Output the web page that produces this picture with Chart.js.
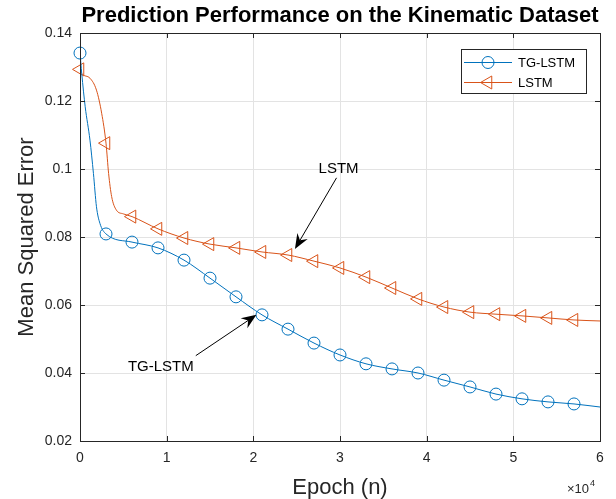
<!DOCTYPE html>
<html>
<head>
<meta charset="utf-8">
<script src="https://cdn.jsdelivr.net/npm/chart.js@4.4.0/dist/chart.umd.min.js"></script>
<style>
  html, body { margin: 0; padding: 0; background: #fff; }
</style>
</head>
<body>
<canvas id="mseChart" width="616" height="499"></canvas>
<script>
const FONT = "'Liberation Sans', Arial, Helvetica, sans-serif";
const BLUE = '#0072BD';
const ORANGE = '#D95319';
const AXIS = '#262626';

// markers every 3000 epochs
const markerEpochs = [0, 3000, 6000, 9000, 12000, 15000, 18000, 21000, 24000, 27000,
                      30000, 33000, 36000, 39000, 42000, 45000, 48000, 51000, 54000, 57000];
const tgMarkers = [0.1341, 0.0809, 0.0785, 0.0768, 0.0732, 0.0679, 0.0624, 0.0571, 0.0529, 0.0488,
                   0.0453, 0.0427, 0.0412, 0.0400, 0.0379, 0.0359, 0.0338, 0.0324, 0.0315, 0.0309];
const lstmMarkers = [0.1293, 0.1076, 0.0860, 0.0824, 0.0797, 0.0779, 0.0768, 0.0756, 0.0747, 0.0729,
                     0.0709, 0.0682, 0.0650, 0.0618, 0.0594, 0.0579, 0.0573, 0.0568, 0.0562, 0.0556];

// extra readings of the curves where they bend sharply
const tgExtraEpochs = [200, 600, 1150, 1550, 1900, 2300, 60000];
const tgExtraMse = [0.1281, 0.1183, 0.1085, 0.0987, 0.0889, 0.0840, 0.0300];
const lstmExtraEpochs = [200, 1150, 1900, 2500, 3300, 3650, 4200, 5000, 60000];
const lstmExtraMse = [0.1281, 0.1267, 0.1232, 0.1164, 0.0987, 0.0919, 0.0879, 0.0868, 0.0553];

const xTicks = [0, 1, 2, 3, 4, 5, 6]; // x 10^4
const yTicks = [0.02, 0.04, 0.06, 0.08, 0.1, 0.12, 0.14];

function toPoints(xs, ys) {
    return xs.map((x, i) => ({ x: x, y: ys[i] }));
}
function curve(xs1, ys1, xs2, ys2) {
    return toPoints(xs1, ys1).concat(toPoints(xs2, ys2)).sort((a, b) => a.x - b.x);
}

function drawArrow(ctx, x1, y1, x2, y2) {
    const dx = x2 - x1, dy = y2 - y1;
    const len = Math.hypot(dx, dy);
    const ux = dx / len, uy = dy / len;
    const nx = -uy, ny = ux;
    const L = 15, W = 6, B = 5;
    ctx.beginPath();
    ctx.moveTo(x1, y1);
    ctx.lineTo(x2 - ux * (L - B), y2 - uy * (L - B));
    ctx.stroke();
    ctx.beginPath();
    ctx.moveTo(x2, y2);
    ctx.lineTo(x2 - ux * L + nx * W, y2 - uy * L + ny * W);
    ctx.lineTo(x2 - ux * (L - B), y2 - uy * (L - B));
    ctx.lineTo(x2 - ux * L - nx * W, y2 - uy * L - ny * W);
    ctx.closePath();
    ctx.fill();
}

const decorations = {
    id: 'decorations',
    afterDatasetsDraw(chart) {
        const ctx = chart.ctx;
        const a = chart.chartArea;
        const xs = chart.scales.x, ys = chart.scales.y;
        ctx.save();

        // axes box + inner ticks
        ctx.strokeStyle = AXIS;
        ctx.lineWidth = 1;
        ctx.strokeRect(Math.round(a.left) + 0.5, Math.round(a.top) + 0.5,
                       Math.round(a.right - a.left), Math.round(a.bottom - a.top));
        ctx.beginPath();
        xTicks.forEach(t => {
            const px = Math.round(xs.getPixelForValue(t * 10000)) + 0.5;
            ctx.moveTo(px, a.bottom); ctx.lineTo(px, a.bottom - 5);
            ctx.moveTo(px, a.top); ctx.lineTo(px, a.top + 5);
        });
        yTicks.forEach(t => {
            const py = Math.round(ys.getPixelForValue(t)) + 0.5;
            ctx.moveTo(a.left, py); ctx.lineTo(a.left + 5, py);
            ctx.moveTo(a.right, py); ctx.lineTo(a.right - 5, py);
        });
        ctx.stroke();

        // title and axis labels
        ctx.fillStyle = '#000';
        ctx.textAlign = 'center';
        ctx.textBaseline = 'alphabetic';
        ctx.font = 'bold 22px ' + FONT;
        ctx.fillText('Prediction Performance on the Kinematic Dataset', (a.left + a.right) / 2, 22);

        ctx.fillStyle = AXIS;
        ctx.font = '22px ' + FONT;
        ctx.fillText('Epoch (n)', (a.left + a.right) / 2, 494);
        ctx.save();
        ctx.translate(33, (a.top + a.bottom) / 2);
        ctx.rotate(-Math.PI / 2);
        ctx.fillText('Mean Squared Error', 0, 0);
        ctx.restore();

        ctx.textAlign = 'right';
        ctx.font = '13px ' + FONT;
        ctx.fillText('\u00d710', a.right - 11, 493);
        ctx.textAlign = 'left';
        ctx.font = '9px ' + FONT;
        ctx.fillText('4', a.right - 10, 486);

        // annotations
        ctx.fillStyle = '#000';
        ctx.strokeStyle = '#000';
        ctx.lineWidth = 1;
        ctx.font = '15px ' + FONT;
        ctx.textAlign = 'center';
        ctx.textBaseline = 'middle';
        ctx.fillText('LSTM', xs.getPixelForValue(29840), ys.getPixelForValue(0.1000));
        drawArrow(ctx, xs.getPixelForValue(29600), ys.getPixelForValue(0.0974),
                  xs.getPixelForValue(24800), ys.getPixelForValue(0.0765));
        ctx.fillText('TG-LSTM', xs.getPixelForValue(9330), ys.getPixelForValue(0.0418));
        drawArrow(ctx, xs.getPixelForValue(13360), ys.getPixelForValue(0.0451),
                  xs.getPixelForValue(20360), ys.getPixelForValue(0.0571));

        // legend
        const lx = a.right - 139, ly = a.top + 16, lw = 125, lh = 44;
        ctx.fillStyle = '#fff';
        ctx.fillRect(lx, ly, lw, lh);
        ctx.strokeStyle = AXIS;
        ctx.lineWidth = 1;
        ctx.strokeRect(lx + 0.5, ly + 0.5, lw, lh);
        const rows = [
            { label: 'TG-LSTM', color: BLUE, style: 'circle', r: 6, rot: 0, y: ly + 13 },
            { label: 'LSTM', color: ORANGE, style: 'triangle', r: 7.5, rot: -90, y: ly + 33 }
        ];
        ctx.textAlign = 'left';
        ctx.textBaseline = 'middle';
        ctx.font = '13px ' + FONT;
        rows.forEach(row => {
            ctx.strokeStyle = row.color;
            ctx.lineWidth = 1;
            ctx.beginPath();
            ctx.moveTo(lx + 3, row.y + 0.5);
            ctx.lineTo(lx + 51, row.y + 0.5);
            ctx.stroke();
            ctx.fillStyle = 'rgba(0,0,0,0)';
            Chart.helpers.drawPoint(ctx, {
                pointStyle: row.style, radius: row.r, rotation: row.rot, borderWidth: 1
            }, lx + 27, row.y + 0.5);
            ctx.fillStyle = '#000';
            ctx.fillText(row.label, lx + 57, row.y + 1);
        });
        ctx.restore();
    }
};

new Chart(document.getElementById('mseChart'), {
    type: 'scatter',
    data: {
        datasets: [{
            data: curve(markerEpochs, tgMarkers, tgExtraEpochs, tgExtraMse),
            showLine: true,
            borderColor: BLUE,
            borderWidth: 1,
            pointRadius: 0,
            cubicInterpolationMode: 'monotone'
        }, {
            data: curve(markerEpochs, lstmMarkers, lstmExtraEpochs, lstmExtraMse),
            showLine: true,
            borderColor: ORANGE,
            borderWidth: 1,
            pointRadius: 0,
            cubicInterpolationMode: 'monotone'
        }, {
            data: toPoints(markerEpochs, tgMarkers),
            showLine: false,
            clip: false,
            pointStyle: 'circle',
            pointRadius: 6,
            pointBorderWidth: 1,
            pointBorderColor: BLUE,
            pointBackgroundColor: 'rgba(0,0,0,0)'
        }, {
            data: toPoints(markerEpochs, lstmMarkers),
            showLine: false,
            clip: false,
            pointStyle: 'triangle',
            pointRotation: -90,
            pointRadius: 7.5,
            pointBorderWidth: 1,
            pointBorderColor: ORANGE,
            pointBackgroundColor: 'rgba(0,0,0,0)'
        }]
    },
    options: {
        responsive: false,
        animation: false,
        layout: {
            padding: { top: 33, right: 16, left: 0, bottom: 0 }
        },
        plugins: {
            legend: { display: false },
            tooltip: { enabled: false }
        },
        scales: {
            x: {
                type: 'linear',
                min: 0,
                max: 60000,
                afterBuildTicks: s => { s.ticks = xTicks.map(v => ({ value: v * 10000 })); },
                afterFit: s => { s.height = 58; },
                ticks: {
                    callback: v => String(v / 10000),
                    color: AXIS,
                    font: { family: FONT, size: 14 },
                    padding: 9,
                    maxRotation: 0
                },
                grid: { color: '#e3e3e3', drawTicks: false },
                border: { display: false }
            },
            y: {
                min: 0.02,
                max: 0.14,
                afterBuildTicks: s => { s.ticks = yTicks.map(v => ({ value: v })); },
                afterFit: s => { s.width = 80; },
                ticks: {
                    callback: v => String(Math.round(v * 100) / 100),
                    color: AXIS,
                    font: { family: FONT, size: 14 },
                    padding: 8
                },
                grid: { color: '#e3e3e3', drawTicks: false },
                border: { display: false }
            }
        }
    },
    plugins: [decorations]
});
</script>
</body>
</html>
